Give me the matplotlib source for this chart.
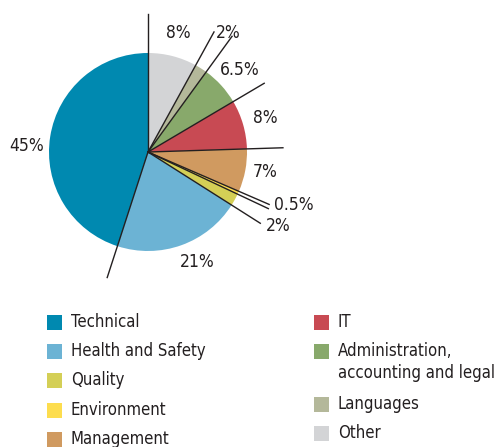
import numpy as np
import matplotlib.pyplot as plt
from matplotlib.patches import Rectangle

plt.rcParams['font.family'] = ['DejaVu Sans']
plt.rcParams['font.stretch'] = 'condensed'

categories = ["Other", "Languages", "Administration,\naccounting and legal", "IT",
              "Management", "Environment", "Quality", "Health and Safety", "Technical"]
shares = [8, 2, 6.5, 8, 7, 0.5, 2, 21, 45]
labels = ["8%", "2%", "6.5%", "8%", "7%", "0.5%", "2%", "21%", "45%"]
colors = ["#d3d4d6", "#b4b89a", "#88a96b", "#c84a53", "#d09a60",
          "#fddd4e", "#d4cf56", "#6cb3d4", "#0089b0"]

# legend layout: left column then right column
legend_left = ["Technical", "Health and Safety", "Quality", "Environment", "Management"]
legend_right = ["IT", "Administration,\naccounting and legal", "Languages", "Other"]

W, H = 502, 447
fig = plt.figure(figsize=(W / 100, H / 100), dpi=100)
ax = fig.add_axes([0, 0, 1, 1])

cx, cy, r = 148, H - 152, 99
ax.pie(shares, colors=colors, startangle=90, counterclock=False,
       center=(cx, cy), radius=r, frame=True,
       wedgeprops=dict(linewidth=0))
ax.set_xlim(0, W)
ax.set_ylim(0, H)
ax.set_aspect('equal')
ax.axis('off')

# leader lines along every slice boundary
bounds = np.concatenate([[0], np.cumsum(shares)[:-1]])
line_len = [138, 137, 143, 135, 135, 132, 133, 133, 132]
for b, L in zip(bounds, line_len):
    th = np.deg2rad(b / 100 * 360)
    ax.plot([cx, cx + L * np.sin(th)], [cy, cy + L * np.cos(th)],
            color="#231f20", lw=1.0)

# percentage labels (pixel positions, top-left origin)
label_pos = [(178, 33), (228, 33), (240, 70), (265, 118), (265, 172),
             (294, 205), (278, 226), (197, 262), (27, 146)]
for txt, (x, y) in zip(labels, label_pos):
    ax.text(x, H - y, txt, fontsize=12.5, color="#231f20",
            ha='center', va='center')

col = dict(zip(categories, colors))

def legend_item(x, y, name, c):
    ax.add_patch(Rectangle((x, H - y - 8), 15, 15, color=c, lw=0))
    for i, line in enumerate(name.split("\n")):
        ax.text(x + 24, H - y - 22 * i, line, fontsize=12, color="#231f20",
                va='center')

for name, y in zip(legend_left, [322, 351, 380, 410, 439]):
    legend_item(47, y, name, col[name])

for name, y in zip(legend_right, [322, 351, 404, 433]):
    legend_item(314, y, name, col[name])

fig.savefig("out.png", dpi=100)
